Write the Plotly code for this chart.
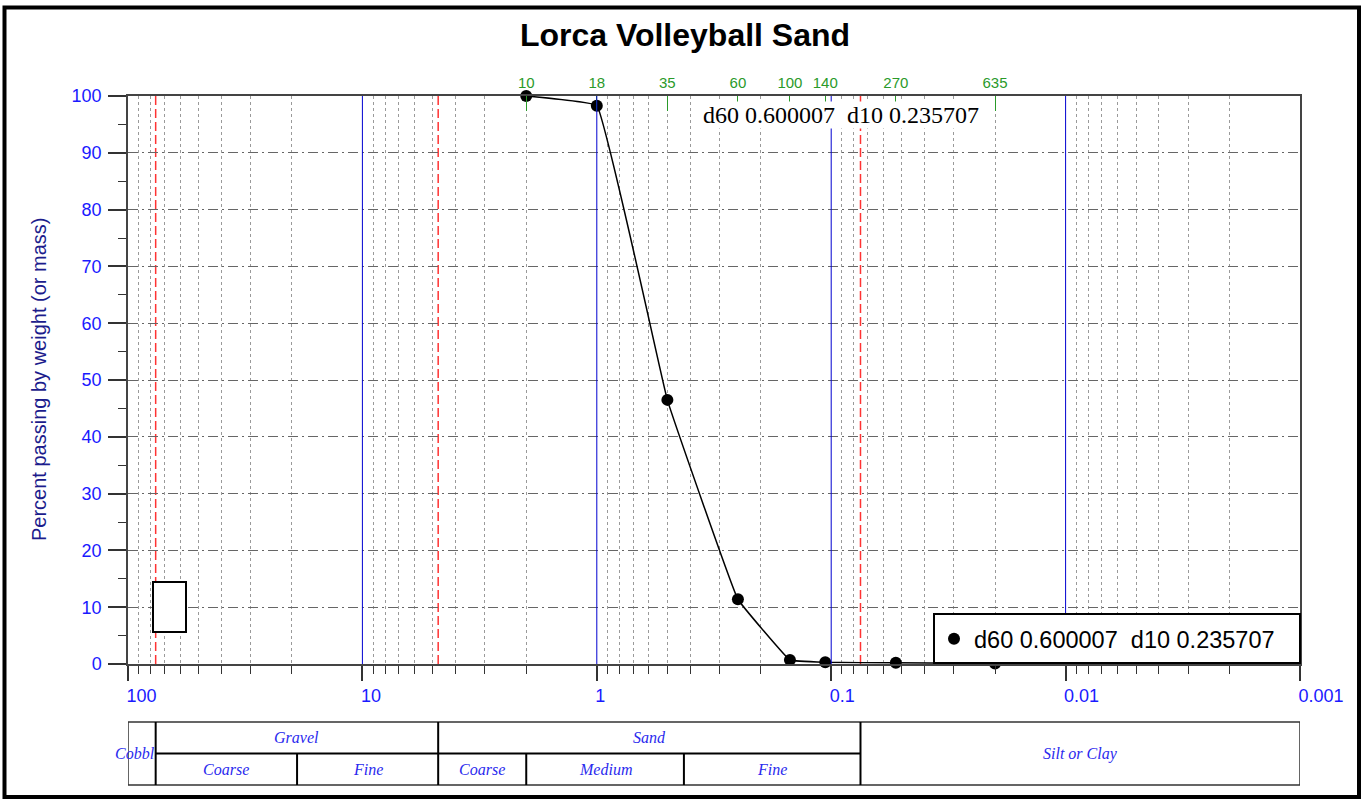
import plotly.graph_objects as go
import numpy as np

# ---- data ----
sieve_numbers = ["10", "18", "35", "60", "100", "140", "270", "635"]
sieve_sizes_mm = [2.0, 1.0, 0.5, 0.25, 0.15, 0.106, 0.053, 0.020]
percent_passing = [100.0, 98.3, 46.5, 11.4, 0.7, 0.3, 0.2, 0.1]

series_name = "d60 0.600007\u00a0 d10 0.235707"
title_text = "Lorca Volleyball Sand"
y_title = "Percent passing by weight (or mass)"

x_tick_vals = [100, 10, 1, 0.1, 0.01, 0.001]
x_tick_text = ["100", "10", "1", "0.1", "0.01", "0.001"]

decade_lines = [10, 1, 0.1, 0.01]          # blue lines
boundary_lines = [76.2, 4.75, 0.075]       # red dashed lines

# soil classification table (boundaries in mm)
top_cells = [("Cobbl", 100, 76.2), ("Gravel", 76.2, 4.75), ("Sand", 4.75, 0.075), ("Silt or Clay", 0.075, 0.001)]
bottom_cells = [("Coarse", 76.2, 19.0), ("Fine", 19.0, 4.75), ("Coarse", 4.75, 2.0),
                ("Medium", 2.0, 0.425), ("Fine", 0.425, 0.075)]

# ---- layout geometry (pixels) ----
W, H = 1362, 799
L, R, T, B = 128, 62, 96, 135
PW, PH = W - L - R, H - T - B


def py(p):  # pixel y -> paper y
    return (H - B - p) / PH


def px(p):  # pixel x -> paper x
    return (p - L) / PW


BLUE_TXT = "#1a1aff"
GREEN = "#2a9a2a"
FONT = "Liberation Sans"
SERIF = "Liberation Serif"

minor_vals = [m * 10.0 ** e for e in range(-3, 2) for m in range(2, 10)]

fig = go.Figure()
fig.add_trace(go.Scatter(
    x=sieve_sizes_mm, y=percent_passing, mode="lines+markers",
    line=dict(color="black", width=1.5, shape="spline", smoothing=0.2),
    marker=dict(color="black", size=12), showlegend=False, cliponaxis=False))
fig.add_trace(go.Scatter(
    x=[None], y=[None], mode="markers", name=series_name,
    marker=dict(color="black", size=12), showlegend=True, xaxis="x2"))

shapes = []
for v in boundary_lines:
    shapes.append(dict(type="line", xref="x", yref="paper", x0=v, x1=v, y0=0, y1=1,
                       line=dict(color="#ff3333", width=1.5, dash="9px,4px"), layer="between"))
for v in decade_lines:
    shapes.append(dict(type="line", xref="x", yref="paper", x0=v, x1=v, y0=0, y1=1,
                       line=dict(color="#0000d0", width=1), layer="above"))

# small empty box
shapes.append(dict(type="rect", xref="paper", yref="paper", x0=px(153), x1=px(186), y0=py(632), y1=py(582),
                   line=dict(color="black", width=2), fillcolor="white", layer="above"))

# legend frame
shapes.append(dict(type="rect", xref="paper", yref="paper", x0=px(934), x1=1, y0=py(663), y1=py(614),
                   line=dict(color="black", width=2), fillcolor="white", layer="above"))

# classification table
t_top, t_mid, t_bot = py(722), py(753.5), py(785)
shapes.append(dict(type="rect", xref="x", yref="paper", x0=100, x1=0.001, y0=t_bot, y1=t_top,
                   line=dict(color="#333", width=1.5)))
shapes.append(dict(type="line", xref="x", yref="paper", x0=76.2, x1=0.075, y0=t_mid, y1=t_mid,
                   line=dict(color="black", width=2)))
for v in [76.2, 4.75, 0.075]:
    shapes.append(dict(type="line", xref="x", yref="paper", x0=v, x1=v, y0=t_bot, y1=t_top,
                       line=dict(color="black", width=2)))
for v in [19.0, 2.0, 0.425]:
    shapes.append(dict(type="line", xref="x", yref="paper", x0=v, x1=v, y0=t_bot, y1=t_mid,
                       line=dict(color="black", width=2)))

# outer border
shapes.append(dict(type="rect", xref="paper", yref="paper", x0=px(4.5), x1=px(1359), y0=py(797), y1=py(7.5),
                   line=dict(color="black", width=4)))

annotations = []
tfont = dict(family=SERIF, size=16, color="#2a2aee")
for name, a, b in top_cells:
    if name == "Cobbl":
        annotations.append(dict(x=px(157), y=(t_top + t_bot) / 2, xref="paper", yref="paper",
                                text="<i>Cobbl</i>", showarrow=False, xanchor="right", yanchor="middle",
                                font=tfont))
    elif name == "Silt or Clay":
        annotations.append(dict(x=(np.log10(a) + np.log10(b)) / 2, y=(t_top + t_bot) / 2, xref="x", yref="paper",
                                text="<i>%s</i>" % name, showarrow=False, xanchor="center", yanchor="middle",
                                font=tfont))
    else:
        annotations.append(dict(x=(np.log10(a) + np.log10(b)) / 2, y=(t_top + t_mid) / 2, xref="x", yref="paper",
                                text="<i>%s</i>" % name, showarrow=False, xanchor="center", yanchor="middle",
                                font=tfont))
for name, a, b in bottom_cells:
    annotations.append(dict(x=(np.log10(a) + np.log10(b)) / 2, y=(t_mid + t_bot) / 2, xref="x", yref="paper",
                            text="<i>%s</i>" % name, showarrow=False, xanchor="center", yanchor="middle",
                            font=tfont))

# d60 / d10 text
annotations.append(dict(x=px(841), y=py(115), xref="paper", yref="paper", text=series_name,
                        showarrow=False, bgcolor="white", xanchor="center", yanchor="middle",
                        font=dict(family=SERIF, size=24, color="black"), borderpad=0))
# y axis title
annotations.append(dict(x=px(39), y=0.5, xref="paper", yref="paper", text=y_title, textangle=-90,
                        showarrow=False, xanchor="center", yanchor="middle",
                        font=dict(family=FONT, size=20, color="#1c1c8c")))

fig.update_layout(
    width=W, height=H, margin=dict(l=L, r=R, t=T, b=B, autoexpand=False),
    paper_bgcolor="white", plot_bgcolor="white",
    title=dict(text="<b>%s</b>" % title_text, x=685 / W, xref="container", xanchor="center",
               y=1 - 35 / H, yref="container", yanchor="middle",
               font=dict(family=FONT, size=32, color="black")),
    font=dict(family=FONT),
    xaxis=dict(type="log", range=[2, -3], showline=True, linecolor="#444", linewidth=1.5, mirror=True,
               ticks="outside", ticklen=15, tickcolor="#333", tickwidth=1.5,
               tickmode="array", tickvals=x_tick_vals, ticktext=x_tick_text,
               tickfont=dict(family=FONT, size=18, color=BLUE_TXT), ticklabelposition="outside right",
               ticklabelstandoff=15, ticklabelshift=3,
               showgrid=False, zeroline=False,
               minor=dict(tickmode="array", tickvals=minor_vals, ticks="outside", ticklen=8,
                          tickcolor="#333", tickwidth=1.2, showgrid=True, gridcolor="#9a9a9a",
                          griddash="dot", gridwidth=1)),
    xaxis2=dict(type="log", range=[2, -3], overlaying="x", side="top", anchor="y",
                tickmode="array", tickvals=sieve_sizes_mm, ticktext=sieve_numbers,
                ticks="inside", ticklen=15, tickcolor=GREEN, tickwidth=1.2,
                tickfont=dict(family=FONT, size=15, color=GREEN), ticklabelstandoff=4,
                showgrid=False, showline=False, zeroline=False),
    yaxis=dict(range=[0, 100], tickmode="linear", tick0=0, dtick=10, showline=True, linecolor="#444",
               linewidth=1.5, mirror=True, ticks="outside", ticklen=18, tickcolor="#333", tickwidth=1.5,
               tickfont=dict(family=FONT, size=18, color=BLUE_TXT), ticklabelstandoff=3,
               showgrid=True, gridcolor="#666", griddash="10px,4px,2px,4px", gridwidth=1, zeroline=False,
               minor=dict(dtick=5, ticks="outside", ticklen=8, tickcolor="#333", tickwidth=1.2, showgrid=False)),
    legend=dict(x=px(934), xanchor="left", y=py(639), yanchor="middle", bgcolor="rgba(0,0,0,0)",
                borderwidth=0, font=dict(family=FONT, size=23.5, color="black")),
    shapes=shapes, annotations=annotations,
)

fig.write_html("out.html", config={"displayModeBar": False},
               post_script="document.body.style.margin='0';")
